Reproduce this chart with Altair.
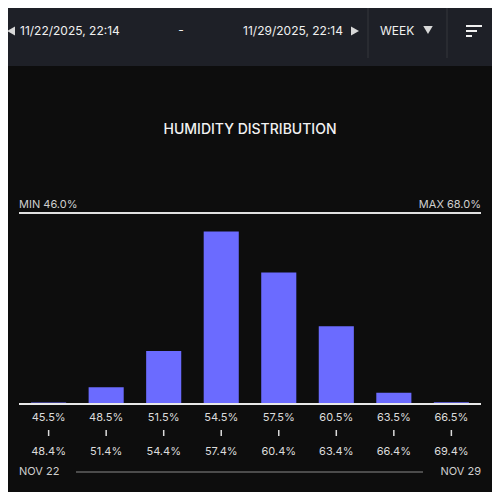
import altair as alt
import pandas as pd

# ---- data ----
bins = ["45.5%", "48.5%", "51.5%", "54.5%", "57.5%", "60.5%", "63.5%", "66.5%"]
upper = ["48.4%", "51.4%", "54.4%", "57.4%", "60.4%", "63.4%", "66.4%", "69.4%"]
share = [0.3, 3.6, 11.4, 37.1, 28.3, 16.7, 2.4, 0.4]
title_text = "HUMIDITY DISTRIBUTION"
min_text = "MIN 46.0%"
max_text = "MAX 68.0%"
start_date = "11/22/2025, 22:14"
end_date = "11/29/2025, 22:14"
period = "WEEK"
day_start = "NOV 22"
day_end = "NOV 29"

df = pd.DataFrame({"bin": bins, "upper": upper, "share": share})
one = pd.DataFrame({"k": [0]})

BG = "#0d0d0d"
HEAD = "#1e2027"
BAR = "#6b6bff"
FONT = "Inter"

xs = alt.Scale(domain=bins, range=[11, 473], paddingInner=0.39, paddingOuter=0.21)
X = alt.X("bin:N", scale=xs, axis=None, sort=bins)
ys = alt.Scale(domain=[0, 40], range=[396, 210])

base = alt.Chart(df)
bars = base.mark_bar(color=BAR, cornerRadius=0).encode(
    x=X, y=alt.Y("share:Q", scale=ys, axis=None), y2=alt.value(396)
)
low_lab = base.mark_text(font=FONT, fontSize=11, color="#dcdcdc").encode(
    x=X, y=alt.value(410), text="bin:N"
)
ticks = base.mark_rule(color="#dcdcdc", strokeWidth=1.5).encode(
    x=X, y=alt.value(422), y2=alt.value(428)
)
up_lab = base.mark_text(font=FONT, fontSize=11, color="#dcdcdc").encode(
    x=X, y=alt.value(444), text="upper:N"
)

c = alt.Chart(one)
def txt(s, x, y, align="left", size=11, color="#d0d0d0", weight="normal"):
    return c.mark_text(text=s, font=FONT, fontSize=size, color=color, align=align,
                       baseline="middle", fontWeight=weight).encode(
        x=alt.value(x), y=alt.value(y))

def hline(x1, x2, y, color, w):
    return c.mark_rule(color=color, strokeWidth=w).encode(
        x=alt.value(x1), x2=alt.value(x2), y=alt.value(y))

def vline(x, y1, y2, color, w):
    return c.mark_rule(color=color, strokeWidth=w).encode(
        x=alt.value(x), y=alt.value(y1), y2=alt.value(y2))

header = c.mark_rect(color=HEAD).encode(
    x=alt.value(-10), x2=alt.value(500), y=alt.value(-10), y2=alt.value(58))

layers = [
    header,
    c.mark_point(shape="triangle-left", filled=True, color="#d8d8d8", size=85, opacity=1).encode(
        x=alt.value(3), y=alt.value(23)),
    txt(start_date, 12, 23, size=12, color="#f0f0f0"),
    txt("-", 173, 22, align="center", size=12, color="#f0f0f0"),
    txt(end_date, 335, 23, align="right", size=12, color="#f0f0f0"),
    c.mark_point(shape="triangle-right", filled=True, color="#d8d8d8", size=85, opacity=1).encode(
        x=alt.value(347), y=alt.value(23)),
    vline(360, 0, 50, "#34363d", 1),
    vline(439, 0, 50, "#34363d", 1),
    txt(period, 372, 23, size=12, color="#f0f0f0"),
    c.mark_point(shape="triangle-down", filled=True, color="#d8d8d8", size=90, opacity=1).encode(
        x=alt.value(420), y=alt.value(22)),
    hline(458, 474, 18, "#f0f0f0", 2),
    hline(458, 469, 23, "#f0f0f0", 2),
    hline(458, 464, 28, "#f0f0f0", 2),
    txt(title_text, 242, 122, align="center", size=14, color="#f2f2f2", weight=500),
    txt(min_text, 11, 197, size=11, color="#cfcfcf"),
    txt(max_text, 473, 197, align="right", size=11, color="#cfcfcf"),
    hline(11, 473, 205, "#e0e0e0", 2),
    bars,
    hline(11, 473, 396, "#e8e8e8", 2),
    low_lab, ticks, up_lab,
    txt(day_start, 11, 464, size=11, color="#cfcfcf"),
    hline(68, 415, 464, "#8a8a8a", 1),
    txt(day_end, 473, 464, align="right", size=11, color="#cfcfcf"),
]

chart = alt.layer(*layers).properties(
    width=484, height=484, background=BG, padding=0,
    autosize=alt.AutoSizeParams(type="none"),
).configure_view(stroke=None)

chart.save("out.html", embed_options={"renderer": "svg", "actions": False})
